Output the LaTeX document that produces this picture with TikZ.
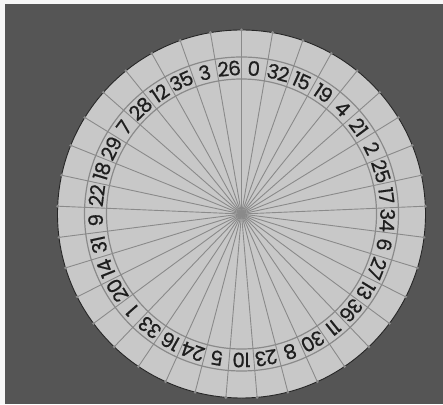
\documentclass[tikz,border=0pt]{standalone}
\usepackage{fontspec}
\setmainfont{Poppins}
\newfontfamily\pocketfont[LetterSpace=-4,FakeBold=0.6]{Poppins}
\definecolor{frame}{HTML}{F7F7F7}
\definecolor{felt}{HTML}{555555}
\definecolor{disc}{HTML}{C8C8C8}
\definecolor{spoke}{HTML}{8A8A8A}
\definecolor{rim}{HTML}{262626}
\definecolor{ink}{HTML}{1E1E1E}
\tikzset{
  spokeline/.style={draw=spoke,line width=0.9pt},
  bandline/.style={draw=spoke,line width=1.2pt},
  rimline/.style={draw=rim,line width=0.9pt},
  pin/.style={circle,fill=spoke,inner sep=0pt,minimum size=3.2pt},
  pocket/.style={font=\pocketfont\fontsize{20}{20}\selectfont,text=ink,inner sep=0pt}
}
\begin{document}
\begin{tikzpicture}[x=1pt,y=1pt]
        \def\R{184}
        \def\step{9.72973}
        \fill[frame] (0,0) rectangle (443,404);
        \fill[felt] (5,0) rectangle (443,400);
        \coordinate (hub) at (241.5,190);
        \fill[disc] (hub) circle (\R);

        \foreach \k in {0,...,36} {
          \draw[spokeline] (hub) -- ([shift={(90-\k*\step:\R)}]hub) coordinate (tip\k);
        }
        \draw[bandline] (hub) circle (135);
        \draw[bandline] (hub) circle (157);
        \draw[rimline] (hub) circle (\R);
        \foreach \k in {0,...,36} {
          \node[pin] (pin\k) at (tip\k) {};
        }

        \foreach \n [count=\i from 0, evaluate=\i as \a using {90-(\i+0.5)*\step}] in {0,32,15,19,4,21,2,25,17,34,6,27,13,36,11,30,8,23,10,5,24,16,33,1,20,14,31,9,22,18,29,7,28,12,35,3,26} {
          \node[pocket,rotate=\a-90] (num\n) at ([shift={(\a:146)}]hub) {\n};
        }
      \end{tikzpicture}
\end{document}
